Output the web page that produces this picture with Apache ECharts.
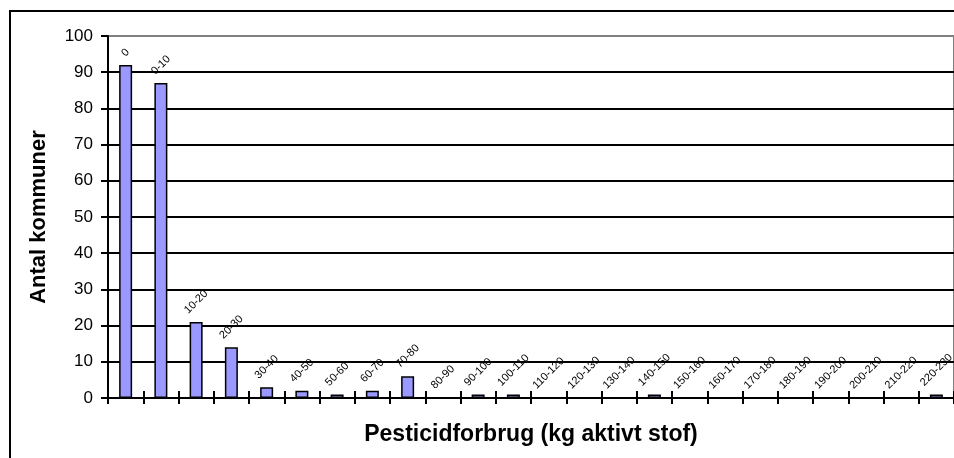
<!DOCTYPE html>
<html>
<head>
<meta charset="utf-8">
<script src="https://cdn.jsdelivr.net/npm/echarts@6/dist/echarts.min.js"></script>
<style>html,body{margin:0;padding:0;background:#fff}#c{width:954px;height:458px}</style>
</head>
<body>
<div id="c"></div>
<script>
const categories = ["0","0-10","10-20","20-30","30-40","40-50","50-60","60-70","70-80","80-90","90-100","100-110","110-120","120-130","130-140","140-150","150-160","160-170","170-180","180-190","190-200","200-210","210-220","220-230"];
const counts = [92,87,21,14,3,2,1,2,6,0,1,1,0,0,0,1,0,0,0,0,0,0,0,1];
const yTicks = [0,10,20,30,40,50,60,70,80,90,100];
const yTitle = "Antal kommuner";
const xTitle = "Pesticidforbrug (kg aktivt stof)";

const font = "Liberation Sans, Arial, sans-serif";
const labelSize = 11;
const ctx = document.createElement('canvas').getContext('2d');
ctx.font = labelSize + 'px ' + font;
const barData = counts.map((v, i) => {
  const L = ctx.measureText(categories[i]).width;
  const half = 0.7071 * (L + labelSize * 0.8) / 2;
  return {value: v, label: {distance: 7 + half}};
});

const chart = echarts.init(document.getElementById('c'), null, {renderer:'canvas'});
chart.setOption({
  animation:false,
  backgroundColor:'#ffffff',
  graphic:[{type:'rect', shape:{x:10,y:11,width:970,height:470}, style:{fill:'none', stroke:'#000', lineWidth:2}, silent:true, z:-1}],
  grid:{left:108, top:36, width:849, height:362, show:true, borderColor:'#808080', borderWidth:2, backgroundColor:'transparent'},
  xAxis:[{
    type:'category', data:categories, boundaryGap:true, position:'bottom', offset:-7,
    axisLine:{show:false, onZero:false},
    axisTick:{show:true, interval:0, inside:false, length:13, lineStyle:{color:'#000', width:2}},
    axisLabel:{show:false, interval:0},
    name:xTitle, nameLocation:'middle', nameGap:44,
    nameTextStyle:{fontFamily:font, fontWeight:'bold', fontSize:23, color:'#000', verticalAlign:'middle'}
  }],
  yAxis:{
    type:'value', min:0, max:100, interval:10,
    axisLine:{show:true, lineStyle:{color:'#000', width:2}},
    axisTick:{show:true, length:7, lineStyle:{color:'#000', width:2}},
    axisLabel:{fontFamily:font, fontSize:17, color:'#000', margin:15,
      formatter:(v)=> yTicks.includes(v) ? String(v) : ''},
    splitLine:{show:true, showMinLine:true, showMaxLine:false, lineStyle:{color:'#000', width:2}},
    name:yTitle, nameLocation:'middle', nameGap:58, nameRotate:90,
    nameTextStyle:{fontFamily:font, fontWeight:'bold', fontSize:22, color:'#000'}
  },
  series:[{
    type:'bar', data:barData, xAxisIndex:0, barWidth:13,
    itemStyle:{color:'#9999FF', borderColor:'#000', borderWidth:1.5},
    label:{show:true, position:'top', rotate:45, align:'center', verticalAlign:'middle',
      formatter:'{b}', fontFamily:font, fontSize:labelSize, color:'#000'}
  }]
});
</script>
</body>
</html>
